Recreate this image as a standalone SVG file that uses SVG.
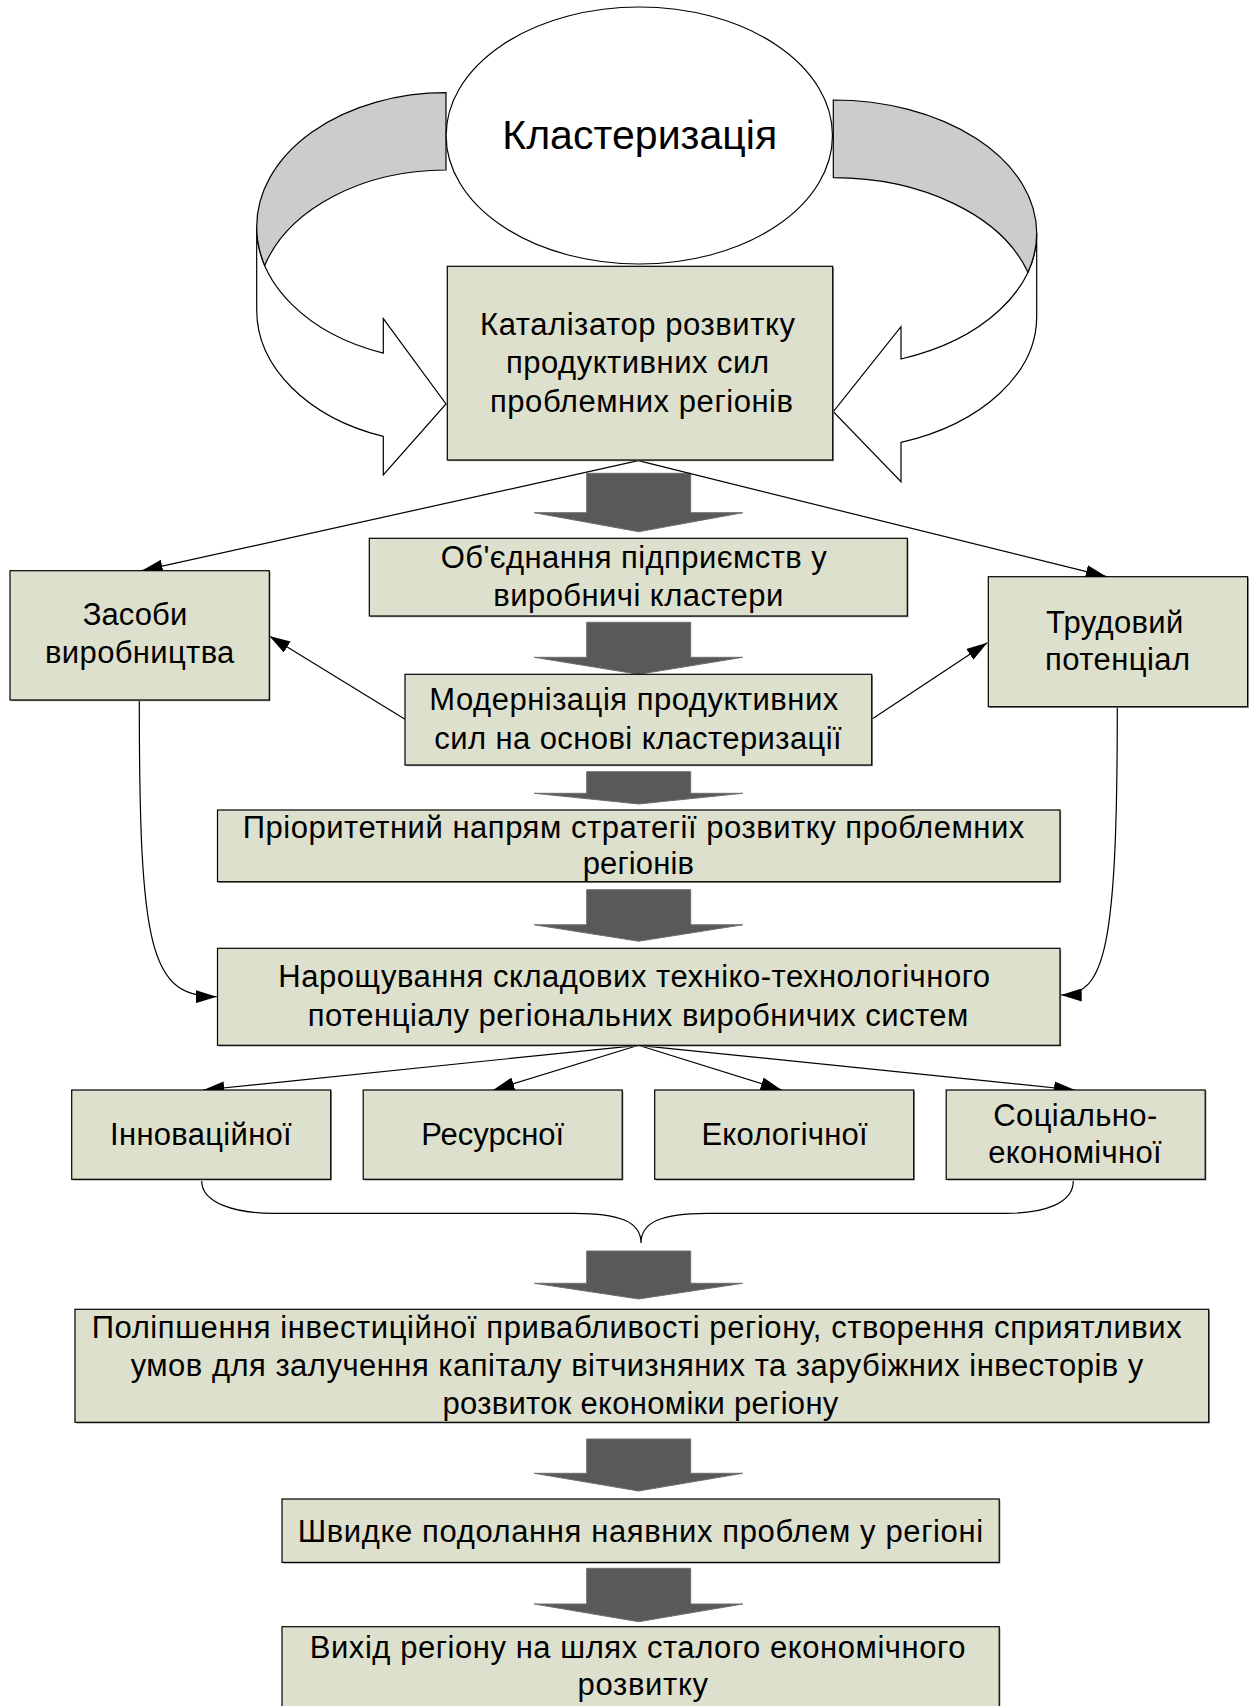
<svg xmlns="http://www.w3.org/2000/svg" width="1255" height="1706" viewBox="0 0 1255 1706">
<defs>
<style>
.bx{fill:#dde0cc;stroke:#000;stroke-width:1.2}
.sh{fill:#8f8f8f}
.t{font-family:"Liberation Sans",Arial,"Noto Sans",sans-serif;font-size:31px;fill:#000;text-anchor:middle}
.big{font-size:41px}
.ln{fill:none;stroke:#000;stroke-width:1.2}
.ba{fill:#595959;stroke:#6e6e6e;stroke-width:1}
.band{fill:#fff;stroke:#000;stroke-width:1.2}
.back{fill:#cccccc;stroke:#000;stroke-width:1.2}
</style>
<marker id="ah" viewBox="0 0 21 13" refX="21" refY="6.5" markerWidth="21" markerHeight="13" markerUnits="userSpaceOnUse" orient="auto">
<path d="M0,0 L21,6.5 L0,13 Z" fill="#000"/>
</marker>
</defs>
<rect x="0" y="0" width="1255" height="1706" fill="#fff"/>

<g id="curved-arrow-left">
<path class="band" d="M256.7,226.7 L256.7,310 A189.3,134 0 0 0 383.3,436.4 L383.3,475 L446,404 L383.3,318.7 L383.3,353.1 A189.3,134 0 0 1 256.7,226.7 Z"/>
<path class="back" d="M446,92.7 A189.3,134 0 0 0 256.7,226.7 A189.3,134 0 0 0 264.7,265.4 A189.3,134 0 0 1 446,170 Z"/>
</g>
<g id="curved-arrow-right">
<path class="band" d="M1036.7,233.3 L1036.7,316.7 A203.4,133.3 0 0 1 901,442.4 L901,481.7 L833.3,411.7 L901,326.7 L901,359 A203.4,133.3 0 0 0 1036.7,233.3 Z"/>
<path class="back" d="M833.3,100 A203.4,133.3 0 0 1 1036.7,233.3 A203.4,133.3 0 0 1 1027.9,272.2 A203.4,133.3 0 0 0 833.3,177.7 Z"/>
</g>

<g id="node-clusterization">
<ellipse cx="639.3" cy="135.5" rx="193.2" ry="128.5" fill="#fff" stroke="#000" stroke-width="1.2"/>
<text class="t big" x="639.7" y="149.3" textLength="275" lengthAdjust="spacing">Кластеризація</text>
</g>

<g id="connectors">
<g id="block-arrows">
<path class="ba" d="M586.7,473.3 L690.7,473.3 L690.7,512.7 L742.7,512.7 L638.7,531.7 L534.3,512.7 L586.7,512.7 Z"/>
<path class="ba" d="M586.7,622.3 L690.7,622.3 L690.7,657.3 L742.7,657.3 L638.7,674.3 L534.3,657.3 L586.7,657.3 Z"/>
<path class="ba" d="M586.7,771.7 L690.7,771.7 L690.7,793.3 L742.7,793.3 L638.7,804 L534.3,793.3 L586.7,793.3 Z"/>
<path class="ba" d="M586.7,889.7 L690.7,889.7 L690.7,924.8 L742.7,924.8 L638.7,941.2 L534.3,924.8 L586.7,924.8 Z"/>
<path class="ba" d="M586.7,1251 L690.7,1251 L690.7,1283.3 L742.7,1283.3 L638.7,1299 L534.3,1283.3 L586.7,1283.3 Z"/>
<path class="ba" d="M586.7,1439 L690.7,1439 L690.7,1473.3 L742.7,1473.3 L638.7,1491 L534.3,1473.3 L586.7,1473.3 Z"/>
<path class="ba" d="M586.7,1568.3 L690.7,1568.3 L690.7,1604 L742.7,1604 L638.7,1621.7 L534.3,1604 L586.7,1604 Z"/>
</g>
<line class="ln" x1="638.3" y1="460.7" x2="141.7" y2="570.7" marker-end="url(#ah)"/>
<line class="ln" x1="638.3" y1="460.7" x2="1106.7" y2="576.7" marker-end="url(#ah)"/>
<line class="ln" x1="405" y1="719.3" x2="269.3" y2="636" marker-end="url(#ah)"/>
<line class="ln" x1="871.7" y1="719.3" x2="987.3" y2="642.7" marker-end="url(#ah)"/>
<path class="ln" d="M139.3,700 C139.3,950 150,996.7 216.7,996.7" marker-end="url(#ah)"/>
<path class="ln" d="M1117.3,706.7 C1117.3,950 1105,995 1060.7,995" marker-end="url(#ah)"/>
<line class="ln" x1="638.5" y1="1045.3" x2="203.3" y2="1090" marker-end="url(#ah)"/>
<line class="ln" x1="638.5" y1="1045.3" x2="493.3" y2="1090" marker-end="url(#ah)"/>
<line class="ln" x1="638.5" y1="1045.3" x2="781.7" y2="1090" marker-end="url(#ah)"/>
<line class="ln" x1="638.5" y1="1045.3" x2="1075" y2="1090" marker-end="url(#ah)"/>
<path class="ln" d="M201.7,1181 C201.7,1203 235,1213.3 273,1213.3 L575,1213.3 C620,1213.3 641,1222 641,1243 C641,1222 662,1213.3 707,1213.3 L1006.7,1213.3 C1045,1213.3 1073.3,1203 1073.3,1181"/>
</g>

<g id="node-catalyst">
<rect class="sh" x="448.5" y="267.5" width="385.4" height="193.7"/>
<rect class="bx" x="447.3" y="266.3" width="385.4" height="193.7"/>
<text class="t" x="637.5" y="335" textLength="315" lengthAdjust="spacing">Каталізатор розвитку</text>
<text class="t" x="637.5" y="373.3" textLength="263" lengthAdjust="spacing">продуктивних сил</text>
<text class="t" x="641.5" y="411.7" textLength="303" lengthAdjust="spacing">проблемних регіонів</text>
</g>

<g id="node-association">
<rect class="sh" x="370.5" y="539.5" width="538" height="77.7"/>
<rect class="bx" x="369.3" y="538.3" width="538" height="77.7"/>
<text class="t" x="633.7" y="568.3" textLength="386" lengthAdjust="spacing">Об'єднання підприємств у</text>
<text class="t" x="638.3" y="606" textLength="290" lengthAdjust="spacing">виробничі кластери</text>
</g>

<g id="node-means">
<rect class="sh" x="11.2" y="571.9" width="259.3" height="129.3"/>
<rect class="bx" x="10" y="570.7" width="259.3" height="129.3"/>
<text class="t" x="135" y="625" textLength="104.6" lengthAdjust="spacing">Засоби</text>
<text class="t" x="139.7" y="663.3" textLength="189.3" lengthAdjust="spacing">виробництва</text>
</g>

<g id="node-labour">
<rect class="sh" x="989.5" y="577.9" width="259.3" height="130"/>
<rect class="bx" x="988.3" y="576.7" width="259.3" height="130"/>
<text class="t" x="1114.7" y="632.7" textLength="137.3" lengthAdjust="spacing">Трудовий</text>
<text class="t" x="1117.5" y="670" textLength="145" lengthAdjust="spacing">потенціал</text>
</g>

<g id="node-modernization">
<rect class="sh" x="406.2" y="675.5" width="466.7" height="90.7"/>
<rect class="bx" x="405" y="674.3" width="466.7" height="90.7"/>
<text class="t" x="633.8" y="709.8" textLength="409" lengthAdjust="spacing">Модернізація продуктивних</text>
<text class="t" x="638" y="748.6" textLength="407.4" lengthAdjust="spacing">сил на основі кластеризації</text>
</g>

<g id="node-priority">
<rect class="sh" x="218.7" y="811.2" width="842.5" height="71.7"/>
<rect class="bx" x="217.5" y="810" width="842.5" height="71.7"/>
<text class="t" x="633.5" y="837.5" textLength="781.6" lengthAdjust="spacing">Пріоритетний напрям стратегії розвитку проблемних</text>
<text class="t" x="638.3" y="874" textLength="111.3" lengthAdjust="spacing">регіонів</text>
</g>

<g id="node-growth">
<rect class="sh" x="218.7" y="949.5" width="842.5" height="97"/>
<rect class="bx" x="217.5" y="948.3" width="842.5" height="97"/>
<text class="t" x="634.2" y="987.2" textLength="711.7" lengthAdjust="spacing">Нарощування складових техніко-технологічного</text>
<text class="t" x="638" y="1026.3" textLength="660.6" lengthAdjust="spacing">потенціалу регіональних виробничих систем</text>
</g>

<g id="node-innovative">
<rect class="sh" x="72.9" y="1091.2" width="259" height="89.3"/>
<rect class="bx" x="71.7" y="1090" width="259" height="89.3"/>
<text class="t" x="200.9" y="1144.5" textLength="181.7" lengthAdjust="spacing">Інноваційної</text>
</g>

<g id="node-resource">
<rect class="sh" x="364.4" y="1091.2" width="259" height="89.3"/>
<rect class="bx" x="363.2" y="1090" width="259" height="89.3"/>
<text class="t" x="492.7" y="1144.5">Ресурсної</text>
</g>

<g id="node-ecological">
<rect class="sh" x="655.9" y="1091.2" width="259" height="89.3"/>
<rect class="bx" x="654.7" y="1090" width="259" height="89.3"/>
<text class="t" x="784.5" y="1144.5" textLength="166" lengthAdjust="spacing">Екологічної</text>
</g>

<g id="node-socioeconomic">
<rect class="sh" x="947.4" y="1091.2" width="259" height="89.3"/>
<rect class="bx" x="946.2" y="1090" width="259" height="89.3"/>
<text class="t" x="1075.3" y="1125.5" textLength="164" lengthAdjust="spacing">Соціально-</text>
<text class="t" x="1075" y="1163.2" textLength="173.4" lengthAdjust="spacing">економічної</text>
</g>

<g id="node-investment">
<rect class="sh" x="76.2" y="1310.5" width="1133.7" height="113"/>
<rect class="bx" x="75" y="1309.3" width="1133.7" height="113"/>
<text class="t" x="636.7" y="1337.6" textLength="1090" lengthAdjust="spacing">Поліпшення інвестиційної привабливості регіону, створення сприятливих</text>
<text class="t" x="637" y="1376" textLength="1012.6" lengthAdjust="spacing">умов для залучення капіталу вітчизняних та зарубіжних інвесторів у</text>
<text class="t" x="640.4" y="1413.8" textLength="395.8" lengthAdjust="spacing">розвиток економіки регіону</text>
</g>

<g id="node-overcoming">
<rect class="sh" x="283.2" y="1500.2" width="717.2" height="63.4"/>
<rect class="bx" x="282" y="1499" width="717.2" height="63.4"/>
<text class="t" x="640.4" y="1541.5" textLength="685.3" lengthAdjust="spacing">Швидке подолання наявних проблем у регіоні</text>
</g>

<g id="node-exit">
<rect class="sh" x="283.2" y="1627.9" width="717.2" height="90"/>
<rect class="bx" x="282" y="1626.7" width="717.2" height="90"/>
<text class="t" x="637.6" y="1658" textLength="655.7" lengthAdjust="spacing">Вихід регіону на шлях сталого економічного</text>
<text class="t" x="642.8" y="1695" textLength="130.4" lengthAdjust="spacing">розвитку</text>
</g>
</svg>
